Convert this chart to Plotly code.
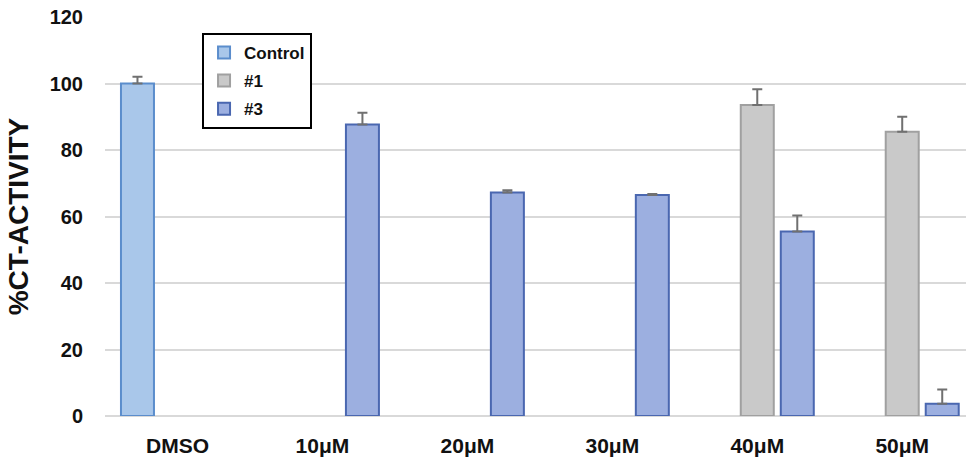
import plotly.graph_objects as go

# Doses along the x axis
categories = ["DMSO", "10μM", "20μM", "30μM", "40μM", "50μM"]

# %CT activity per series (None = not measured at that dose)
control_vals = [100, None, None, None, None, None]
control_err = [2, None, None, None, None, None]

cmpd1_vals = [None, None, None, None, 93.5, 85.5]
cmpd1_err = [None, None, None, None, 4.8, 4.5]

cmpd3_vals = [None, 87.7, 67.2, 66.5, 55.5, 3.7]
cmpd3_err = [None, 3.5, 0.7, 0.3, 4.8, 4.3]

y_ticks = [0, 20, 40, 60, 80, 100, 120]

FONT = "Liberation Sans, Arial, sans-serif"
x_idx = list(range(len(categories)))

series = [
    ("Control", control_vals, control_err, "#a9c7ea", "#5b8dcc"),
    ("#1", cmpd1_vals, cmpd1_err, "#c9c9c9", "#a0a0a0"),
    ("#3", cmpd3_vals, cmpd3_err, "#9cafe0", "#4a67b0"),
]

fig = go.Figure()
for i, (name, vals, errs, fill, edge) in enumerate(series):
    fig.add_trace(go.Bar(
        name=name,
        x=x_idx,
        y=vals,
        legendgroup=f"g{i}",
        marker=dict(color=fill, line=dict(color=edge, width=2)),
        error_y=dict(type="data", array=errs, symmetric=False,
                     arrayminus=[0 if e is not None else None for e in errs],
                     color="#707070", thickness=2, width=5),
    ))

fig.update_layout(
    width=966, height=460,
    margin=dict(l=105, r=0, t=17, b=44),
    paper_bgcolor="white", plot_bgcolor="white",
    barmode="group", bargap=0.172, bargroupgap=0.175,
    font=dict(family=FONT, color="#111111"),
    showlegend=True,
    legend=dict(
        x=0.1127, y=0.96, xanchor="left", yanchor="top",
        bordercolor="black", borderwidth=2, bgcolor="white",
        font=dict(family=FONT, size=17, color="#111111", weight="bold"),
        traceorder="grouped", tracegroupgap=3,
        itemwidth=30,
    ),
    xaxis=dict(
        range=[-0.5, 5.44],
        tickmode="array", tickvals=x_idx, ticktext=categories,
        tickfont=dict(family=FONT, size=21, weight="bold"),
        ticks="outside", ticklen=11, tickcolor="rgba(0,0,0,0)",
        showgrid=False, zeroline=False, showline=False,
    ),
    yaxis=dict(
        range=[0, 120],
        tickmode="array", tickvals=y_ticks,
        tickfont=dict(family=FONT, size=20, weight="bold"),
        ticklabelstandoff=21,
        showgrid=True, gridcolor="#d9d9d9", gridwidth=2,
        zeroline=True, zerolinecolor="#d9d9d9", zerolinewidth=2,
        showline=False,
        title=dict(text="%CT-ACTIVITY", standoff=12,
                   font=dict(family=FONT, size=28, weight="bold")),
    ),
)

fig.write_html("out.html")
